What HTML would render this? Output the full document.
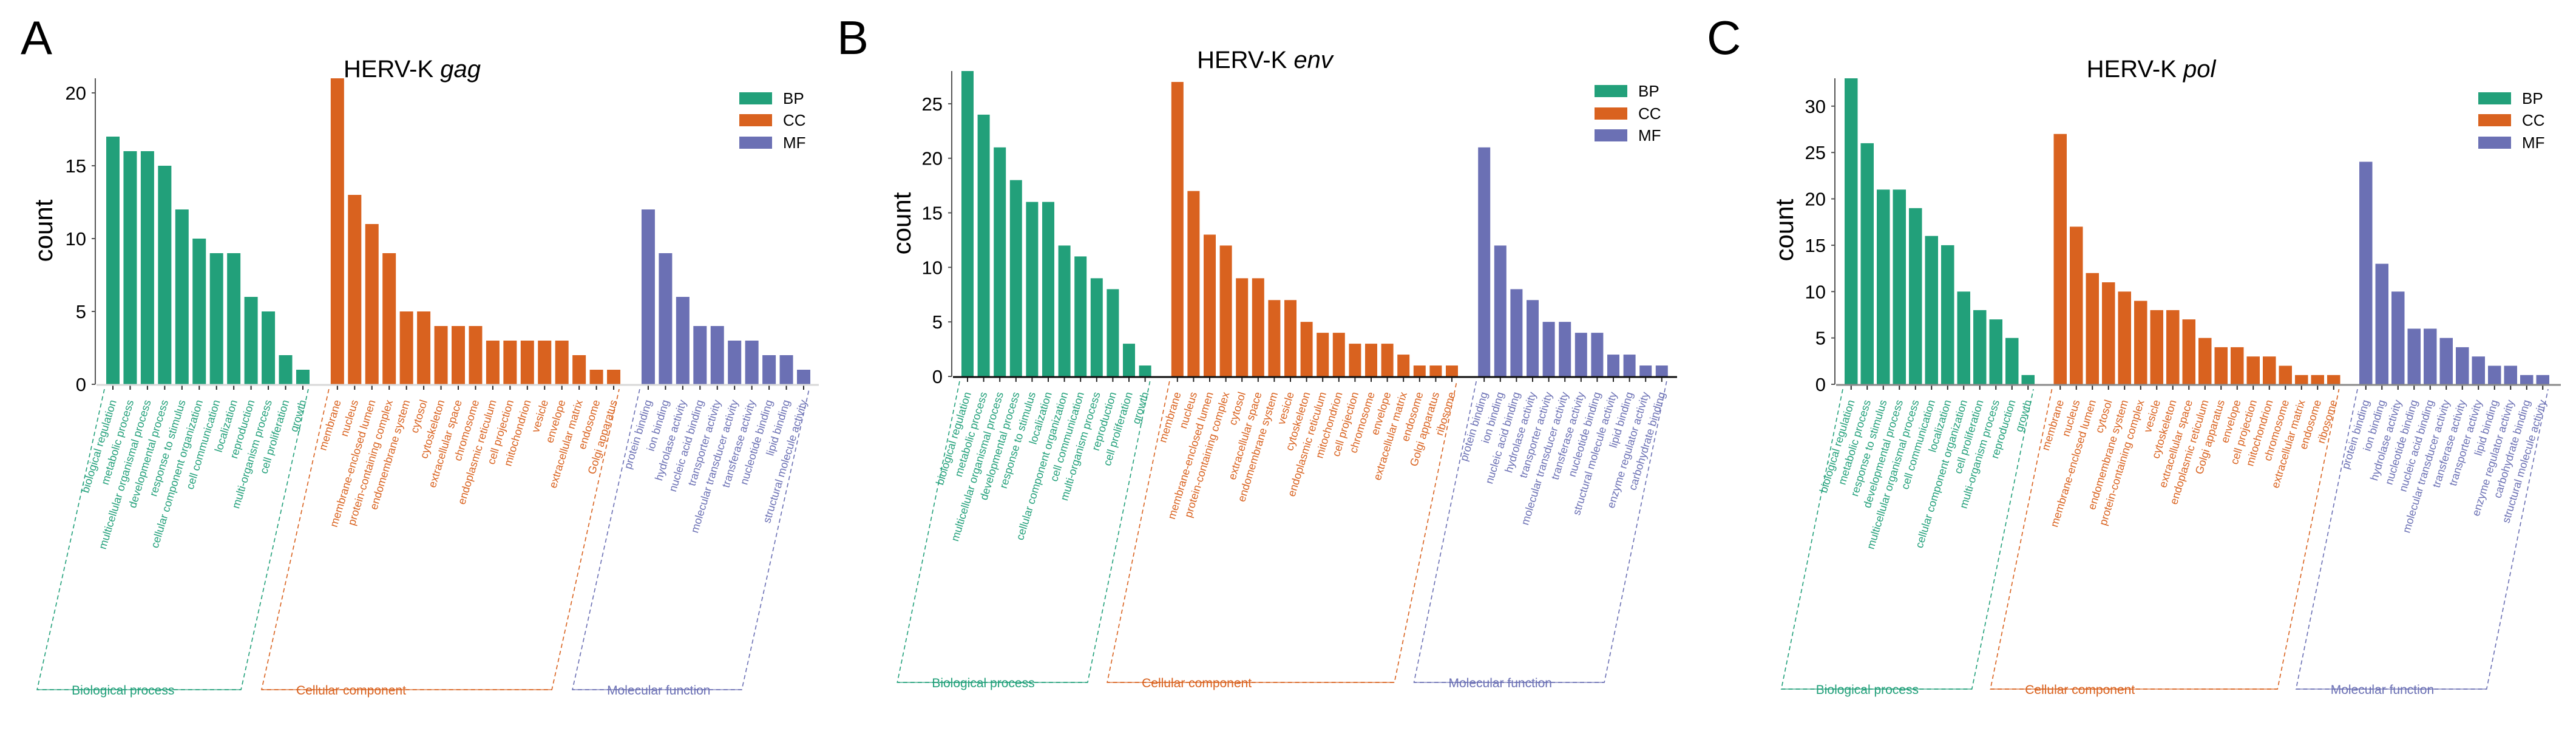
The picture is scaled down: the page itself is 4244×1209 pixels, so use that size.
<!DOCTYPE html>
<html><head><meta charset="utf-8"><style>
html,body{margin:0;padding:0;background:#fff}
svg{display:block}
text{font-family:"Liberation Sans",Arial,sans-serif}
</style></head><body>
<svg id="fig" xmlns="http://www.w3.org/2000/svg" width="4244" height="1209" viewBox="0 0 4244 1209"></svg>
<script>
// ---------- DATA ----------
const gagBpLabels = ["biological regulation","metabolic process","multicellular organismal process","developmental process","response to stimulus","cellular component organization","cell communication","localization","reproduction","multi-organism process","cell proliferation","growth"];
const gagBpValues = [17,16,16,15,12,10,9,9,6,5,2,1];
const gagCcLabels = ["membrane","nucleus","membrane-enclosed lumen","protein-containing complex","endomembrane system","cytosol","cytoskeleton","extracellular space","chromosome","endoplasmic reticulum","cell projection","mitochondrion","vesicle","envelope","extracellular matrix","endosome","Golgi apparatus"];
const gagCcValues = [21,13,11,9,5,5,4,4,4,3,3,3,3,3,2,1,1];
const gagMfLabels = ["protein binding","ion binding","hydrolase activity","nucleic acid binding","transporter activity","molecular transducer activity","transferase activity","nucleotide binding","lipid binding","structural molecule activity"];
const gagMfValues = [12,9,6,4,4,3,3,2,2,1];

const envBpLabels = ["biological regulation","metabolic process","multicellular organismal process","developmental process","response to stimulus","localization","cellular component organization","cell communication","multi-organism process","reproduction","cell proliferation","growth"];
const envBpValues = [28,24,21,18,16,16,12,11,9,8,3,1];
const envCcLabels = ["membrane","nucleus","membrane-enclosed lumen","protein-containing complex","cytosol","extracellular space","endomembrane system","vesicle","cytoskeleton","endoplasmic reticulum","mitochondrion","cell projection","chromosome","envelope","extracellular matrix","endosome","Golgi apparatus","ribosome"];
const envCcValues = [27,17,13,12,9,9,7,7,5,4,4,3,3,3,2,1,1,1];
const envMfLabels = ["protein binding","ion binding","nucleic acid binding","hydrolase activity","transporter activity","molecular transducer activity","transferase activity","nucleotide binding","structural molecule activity","lipid binding","enzyme regulator activity","carbohydrate binding"];
const envMfValues = [21,12,8,7,5,5,4,4,2,2,1,1];

const polBpLabels = ["biological regulation","metabolic process","response to stimulus","developmental process","multicellular organismal process","cell communication","localization","cellular component organization","cell proliferation","multi-organism process","reproduction","growth"];
const polBpValues = [33,26,21,21,19,16,15,10,8,7,5,1];
const polCcLabels = ["membrane","nucleus","membrane-enclosed lumen","cytosol","endomembrane system","protein-containing complex","vesicle","cytoskeleton","extracellular space","endoplasmic reticulum","Golgi apparatus","envelope","cell projection","mitochondrion","chromosome","extracellular matrix","endosome","ribosome"];
const polCcValues = [27,17,12,11,10,9,8,8,7,5,4,4,3,3,2,1,1,1];
const polMfLabels = ["protein binding","ion binding","hydrolase activity","nucleotide binding","nucleic acid binding","molecular transducer activity","transferase activity","transporter activity","lipid binding","enzyme regulator activity","carbohydrate binding","structural molecule activity"];
const polMfValues = [24,13,10,6,6,5,4,3,2,2,1,1];

const yTicksGag = [0,5,10,15,20];
const yTicksEnv = [0,5,10,15,20,25];
const yTicksPol = [0,5,10,15,20,25,30];
const yMaxGag = 21, yMaxEnv = 28, yMaxPol = 33;
const legendLabels = ["BP","CC","MF"];
const groupNames = ["Biological process","Cellular component","Molecular function"];

// ---------- RENDER ----------
const NS = "http://www.w3.org/2000/svg";
const svg = document.getElementById("fig");
const COLORS = ["#22a07a","#d9621f","#6b70b4"];
function mk(tag, attrs, parent){
  const e = document.createElementNS(NS, tag);
  for (const k in attrs) e.setAttribute(k, attrs[k]);
  (parent||svg).appendChild(e);
  return e;
}

const panels = [
  {id:"gag", letter:"A", letterX:34, gene:"gag", titleX:679, titleY:127, axisX:157, y0:633, yTop:129, yMax:yMaxGag, ticks:yTicksGag,
   first:175, slot:28.45, barW:22, baseEnd:1349, baseColor:"#d8d8d8", countX:72, countY:380, legX:1218, legY:[162,198,235],
   bottom:1136, skew:0.224,
   groups:[[gagBpLabels,gagBpValues],[gagCcLabels,gagCcValues],[gagMfLabels,gagMfValues]]},
  {id:"env", letter:"B", letterX:1379, gene:"env", titleX:2084, titleY:112, axisX:1568, y0:620, yTop:117, yMax:yMaxEnv, ticks:yTicksEnv,
   first:1584, slot:26.6, barW:20, baseEnd:2763, baseColor:"#111", countX:1486, countY:368, legX:2627, legY:[150,187,223],
   bottom:1124, skew:0.207,
   groups:[[envBpLabels,envBpValues],[envCcLabels,envCcValues],[envMfLabels,envMfValues]]},
  {id:"pol", letter:"C", letterX:2812, gene:"pol", titleX:3544, titleY:127, axisX:3023, y0:633, yTop:129, yMax:yMaxPol, ticks:yTicksPol,
   first:3039, slot:26.5, barW:21.5, baseEnd:4219, baseColor:"#8a8a8a", countX:2940, countY:379, legX:4083, legY:[162,198,235],
   bottom:1135, skew:0.205,
   groups:[[polBpLabels,polBpValues],[polCcLabels,polCcValues],[polMfLabels,polMfValues]]}
];

panels.forEach(p => {
  const g = mk("g", {});
  
  
  const yS = v => p.y0 - v * (p.y0 - p.yTop) / p.yMax;

  const L = mk("text", {x:p.letterX, y:89, "font-size":78}, g);
  L.textContent = p.letter;
  
  

  const T = mk("text", {x:p.titleX, y:p.titleY, "font-size":40, "text-anchor":"middle"}, g);
  
  
  T.appendChild(document.createTextNode("HERV-K "));
  const ts = mk("tspan", {"font-style":"italic"}, T); ts.textContent = p.gene;

  const C = mk("text", {x:0, y:0, "font-size":42, "text-anchor":"middle", transform:`translate(${p.countX+14},${p.countY}) rotate(-90)`}, g);
  C.textContent = "count";
  
  

  const ax = mk("line", {x1:p.axisX, y1:p.yTop, x2:p.axisX, y2:p.y0, stroke:"#555", "stroke-width":2}, g);
  
  
  p.ticks.forEach(t => {
    const tk = mk("line", {x1:p.axisX-6, y1:yS(t), x2:p.axisX, y2:yS(t), stroke:"#555", "stroke-width":2}, g);
    
    
    const tl = mk("text", {x:p.axisX-15, y:yS(t)+11, "font-size":31, "text-anchor":"end"}, g);
    tl.textContent = t;
    
    
  });

  let slotIdx = 0;
  p.groups.forEach((grp, gi) => {
    const [labels, values] = grp;
    const startSlot = slotIdx;
    values.forEach((v, i) => {
      const x = p.first + slotIdx * p.slot;
      const b = mk("rect", {x:x, y:yS(v), width:p.barW, height:p.y0 - yS(v), fill:COLORS[gi]}, g);
      
      
      const cx = x + p.barW/2;
      const tk = mk("line", {x1:cx, y1:p.y0, x2:cx, y2:p.y0+9, stroke:"#222", "stroke-width":2}, g);
      
      
      const lb = mk("text", {x:0, y:0, dy:"0.35em", "font-size":18, fill:COLORS[gi], "text-anchor":"end", transform:`translate(${cx},${p.y0+26}) rotate(-73)`}, g);
      lb.textContent = labels[i];
      
      
      slotIdx++;
    });
    const lastSlot = slotIdx - 1;
    slotIdx++; // gap
    const topY = p.y0 + 8;
    const tl = p.first + startSlot * p.slot - 3;
    const tr = p.first + lastSlot * p.slot + p.barW - 2;
    const dx = (p.bottom - topY) * p.skew;
    const br = mk("path", {d:`M${tl},${topY} L${tl-dx},${p.bottom} L${tr-dx},${p.bottom} L${tr},${topY}`, fill:"none", stroke:COLORS[gi], "stroke-width":1.6, "stroke-dasharray":"7,5"}, g);
    
    
    const bl = mk("line", {x1:tl-dx, y1:p.bottom, x2:tr-dx, y2:p.bottom, stroke:COLORS[gi], "stroke-width":2, opacity:0.6}, g);
    
    
    const gt = mk("text", {x:tl-dx+57, y:p.bottom+8, "font-size":21, fill:COLORS[gi]}, g);
    gt.textContent = groupNames[gi];
    
    
  });

  const base = mk("line", {x1:p.axisX+2, y1:p.y0+1, x2:p.baseEnd, y2:p.y0+1, stroke:p.baseColor, "stroke-width":3}, g);
  
  

  legendLabels.forEach((lab, i) => {
    const sq = mk("rect", {x:p.legX, y:p.legY[i]-10, width:54, height:20, fill:COLORS[i]}, g);
    
    
    const lt = mk("text", {x:p.legX+72, y:p.legY[i]+9, "font-size":26}, g);
    lt.textContent = lab;
    
    
  });
});
</script>
</body></html>
